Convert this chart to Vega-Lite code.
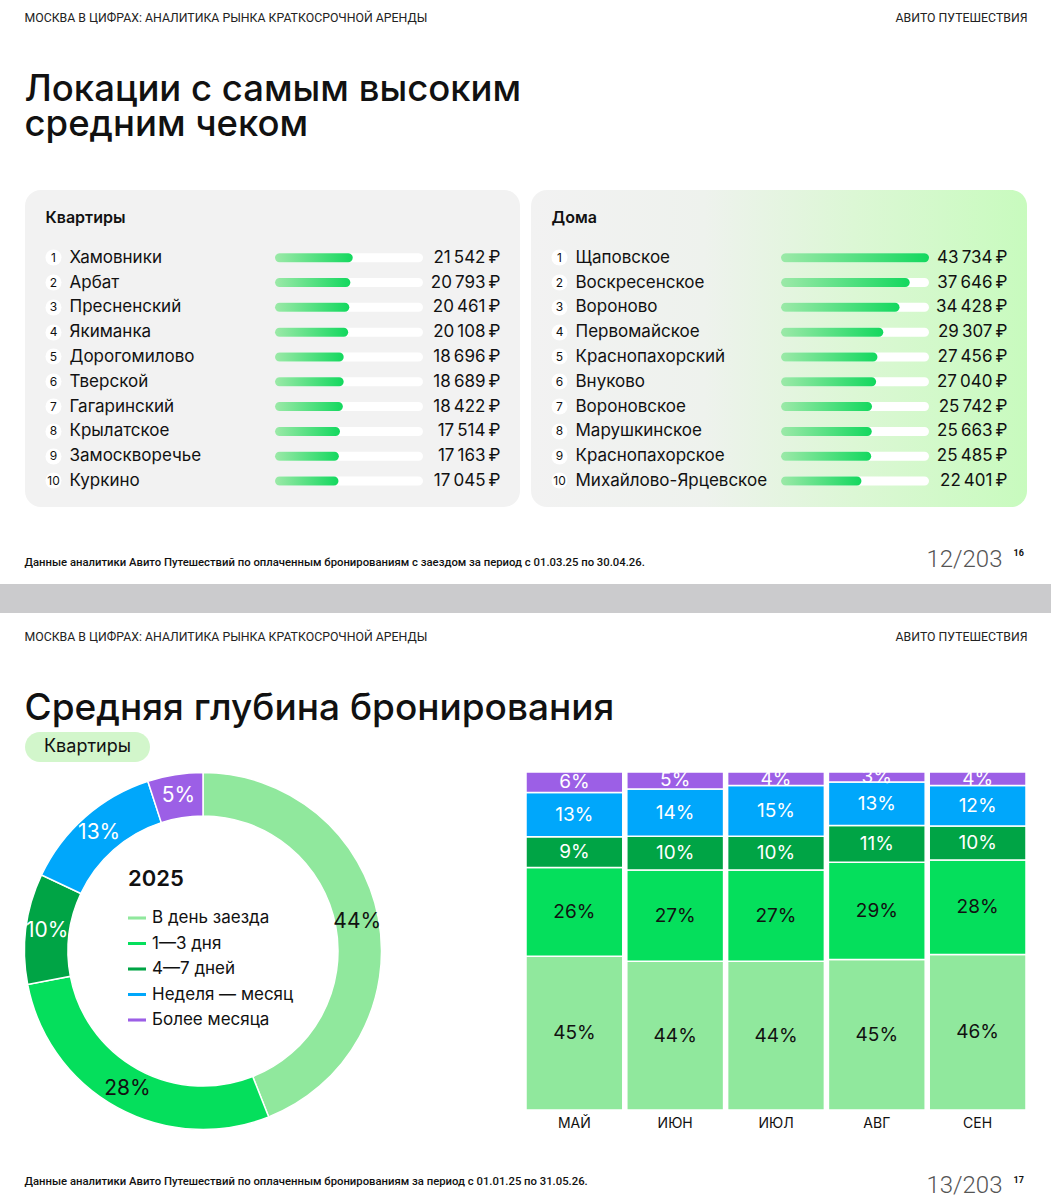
{
  "$schema": "https://vega.github.io/schema/vega-lite/v6.json",
  "padding": 0,
  "spacing": 0,
  "background": "#ffffff",
  "config": {
    "font": "Inter",
    "view": {"stroke": null},
    "axis": {"minExtent": 0, "grid": false, "domain": false, "labelOverlap": false}
  },
  "datasets": {
    "blank": [],
    "flats": [
      {"rank": 1, "name": "Хамовники", "value": 21542},
      {"rank": 2, "name": "Арбат", "value": 20793},
      {"rank": 3, "name": "Пресненский", "value": 20461},
      {"rank": 4, "name": "Якиманка", "value": 20108},
      {"rank": 5, "name": "Дорогомилово", "value": 18696},
      {"rank": 6, "name": "Тверской", "value": 18689},
      {"rank": 7, "name": "Гагаринский", "value": 18422},
      {"rank": 8, "name": "Крылатское", "value": 17514},
      {"rank": 9, "name": "Замоскворечье", "value": 17163},
      {"rank": 10, "name": "Куркино", "value": 17045}
    ],
    "houses": [
      {"rank": 1, "name": "Щаповское", "value": 43734},
      {"rank": 2, "name": "Воскресенское", "value": 37646},
      {"rank": 3, "name": "Вороново", "value": 34428},
      {"rank": 4, "name": "Первомайское", "value": 29307},
      {"rank": 5, "name": "Краснопахорский", "value": 27456},
      {"rank": 6, "name": "Внуково", "value": 27040},
      {"rank": 7, "name": "Вороновское", "value": 25742},
      {"rank": 8, "name": "Марушкинское", "value": 25663},
      {"rank": 9, "name": "Краснопахорское", "value": 25485},
      {"rank": 10, "name": "Михайлово-Ярцевское", "value": 22401}
    ],
    "year2025": [
      {"cat": "В день заезда", "from_day": 0, "share": 0.44},
      {"cat": "1—3 дня", "from_day": 1, "share": 0.28},
      {"cat": "4—7 дней", "from_day": 4, "share": 0.10},
      {"cat": "Неделя — месяц", "from_day": 8, "share": 0.13},
      {"cat": "Более месяца", "from_day": 31, "share": 0.05}
    ],
    "byMonth": [
      {"month": "МАЙ", "cat": "В день заезда", "from_day": 0, "share": 0.45},
      {"month": "МАЙ", "cat": "1—3 дня", "from_day": 1, "share": 0.26},
      {"month": "МАЙ", "cat": "4—7 дней", "from_day": 4, "share": 0.09},
      {"month": "МАЙ", "cat": "Неделя — месяц", "from_day": 8, "share": 0.13},
      {"month": "МАЙ", "cat": "Более месяца", "from_day": 31, "share": 0.06},
      {"month": "ИЮН", "cat": "В день заезда", "from_day": 0, "share": 0.44},
      {"month": "ИЮН", "cat": "1—3 дня", "from_day": 1, "share": 0.27},
      {"month": "ИЮН", "cat": "4—7 дней", "from_day": 4, "share": 0.10},
      {"month": "ИЮН", "cat": "Неделя — месяц", "from_day": 8, "share": 0.14},
      {"month": "ИЮН", "cat": "Более месяца", "from_day": 31, "share": 0.05},
      {"month": "ИЮЛ", "cat": "В день заезда", "from_day": 0, "share": 0.44},
      {"month": "ИЮЛ", "cat": "1—3 дня", "from_day": 1, "share": 0.27},
      {"month": "ИЮЛ", "cat": "4—7 дней", "from_day": 4, "share": 0.10},
      {"month": "ИЮЛ", "cat": "Неделя — месяц", "from_day": 8, "share": 0.15},
      {"month": "ИЮЛ", "cat": "Более месяца", "from_day": 31, "share": 0.04},
      {"month": "АВГ", "cat": "В день заезда", "from_day": 0, "share": 0.45},
      {"month": "АВГ", "cat": "1—3 дня", "from_day": 1, "share": 0.29},
      {"month": "АВГ", "cat": "4—7 дней", "from_day": 4, "share": 0.11},
      {"month": "АВГ", "cat": "Неделя — месяц", "from_day": 8, "share": 0.13},
      {"month": "АВГ", "cat": "Более месяца", "from_day": 31, "share": 0.03},
      {"month": "СЕН", "cat": "В день заезда", "from_day": 0, "share": 0.46},
      {"month": "СЕН", "cat": "1—3 дня", "from_day": 1, "share": 0.28},
      {"month": "СЕН", "cat": "4—7 дней", "from_day": 4, "share": 0.10},
      {"month": "СЕН", "cat": "Неделя — месяц", "from_day": 8, "share": 0.12},
      {"month": "СЕН", "cat": "Более месяца", "from_day": 31, "share": 0.04}
    ]
  },
  "vconcat": [
    {
      "width": 1051, "height": 190,
      "data": {"name": "blank"},
      "layer": [
        {"mark": {"type": "point", "opacity": 0},
         "encoding": {
           "x": {"field": "x", "type": "quantitative", "scale": {"domain": [0, 1]},
                 "axis": {"orient": "top", "labels": false, "ticks": false, "domain": false,
                          "title": ["Локации с самым высоким", "средним чеком"],
                          "titleX": 24, "titleY": 100, "titleAlign": "left", "titleBaseline": "alphabetic", "titleAngle": 0,
                          "titleFont": "Inter", "titleFontSize": 36.5, "titleFontWeight": 500, "titleLineHeight": 35.5,
                          "titleColor": "#111111", "titleLimit": 0}},
           "y": {"field": "y", "type": "quantitative", "scale": {"domain": [0, 1]},
                 "axis": {"orient": "left", "labels": false, "ticks": false, "domain": false,
                          "title": "МОСКВА В ЦИФРАХ: АНАЛИТИКА РЫНКА КРАТКОСРОЧНОЙ АРЕНДЫ",
                          "titleX": 24, "titleY": 21, "titleAlign": "left", "titleBaseline": "alphabetic", "titleAngle": 0,
                          "titleFont": "Roboto", "titleFontSize": 12.3, "titleFontWeight": 400, "titleColor": "#222222", "titleLimit": 0}}
         }},
        {"mark": {"type": "point", "opacity": 0},
         "encoding": {
           "y": {"field": "y", "type": "quantitative", "scale": {"domain": [0, 1]},
                 "axis": {"orient": "right", "labels": false, "ticks": false, "domain": false,
                          "title": "АВИТО ПУТЕШЕСТВИЯ",
                          "titleX": -24, "titleY": 21, "titleAlign": "right", "titleBaseline": "alphabetic", "titleAngle": 0,
                          "titleFont": "Roboto", "titleFontSize": 12.3, "titleFontWeight": 400, "titleColor": "#222222", "titleLimit": 0}}
         }}
      ],
      "resolve": {"scale": {"y": "independent"}, "axis": {"y": "independent"}}
    },
    {
      "spacing": 11,
      "hconcat": [
        {"width": 14, "height": 317, "data": {"name": "blank"}, "mark": "rect", "encoding": {}},
        {
          "width": 495, "height": 317,
          "view": {"fill": "#f2f2f2", "cornerRadius": 16},
          "data": {"name": "flats"},
          "layer": [
            {"mark": {"type": "bar", "color": "#ffffff", "cornerRadius": 4.5, "height": 9, "xOffset": 9.5},
             "encoding": {
               "x": {"datum": 43734, "type": "quantitative", "scale": {"domain": [0, 43734], "range": [250, 388.5]}, "axis": null},
               "x2": {"datum": 0},
               "y": {"field": "rank", "type": "ordinal",
                     "scale": {"type": "band", "paddingInner": 0, "paddingOuter": 0, "range": [55.3, 303.4]},
                     "axis": {"orient": "left", "offset": -28, "domain": false, "ticks": true, "tickColor": "#ffffff",
                              "tickWidth": 16, "tickCap": "round", "tickSize": 0.01,
                              "labelAlign": "center", "labelBaseline": "middle", "labelPadding": -0.01,
                              "labelFontSize": 12, "labelColor": "#111111",
                              "title": "Квартиры", "titleAngle": 0, "titleX": -8, "titleY": 32,
                              "titleAlign": "left", "titleBaseline": "alphabetic",
                              "titleFontSize": 16, "titleFontWeight": 600, "titleColor": "#111111"}}
             }},
            {"mark": {"type": "bar", "cornerRadius": 4.5, "height": 9, "xOffset": 9.5,
                      "color": {"gradient": "linear", "x1": 0, "y1": 0, "x2": 1, "y2": 0,
                                "stops": [{"offset": 0, "color": "#9ce9a8"}, {"offset": 1, "color": "#13d85e"}]}},
             "encoding": {
               "x": {"field": "value", "type": "quantitative", "scale": {"domain": [0, 43734], "range": [250, 388.5]}, "axis": null},
               "x2": {"datum": 0},
               "y": {"field": "name", "type": "nominal", "sort": {"field": "rank", "op": "min"},
                     "scale": {"type": "band", "paddingInner": 0, "paddingOuter": 0, "range": [55.3, 303.4]},
                     "axis": {"orient": "left", "offset": -44, "domain": false, "ticks": false, "tickSize": 0,
                              "labelPadding": 0, "labelAlign": "left", "labelBaseline": "middle",
                              "labelFontSize": 17, "labelColor": "#111111", "labelLimit": 0, "title": null}}
             }},
            {"mark": {"type": "point", "opacity": 0},
             "encoding": {
               "y": {"field": "value", "type": "ordinal", "sort": "descending",
                     "scale": {"type": "band", "paddingInner": 0, "paddingOuter": 0, "range": [55.3, 303.4]},
                     "axis": {"orient": "right", "offset": -20, "domain": false, "ticks": false, "tickSize": 0,
                              "labelPadding": 0, "labelAlign": "right", "labelBaseline": "middle",
                              "labelFontSize": 17, "labelColor": "#111111", "labelLimit": 0, "title": null,
                              "labelExpr": "replace(format(datum.value, ','), ',', '\u202f') + '\u2009₽'"}}
             }}
          ],
          "resolve": {"scale": {"y": "independent"}, "axis": {"y": "independent"}}
        },
        {
          "width": 496, "height": 317,
          "view": {"fill": {"gradient": "linear", "x1": 0, "y1": 0, "x2": 1, "y2": 0,
                            "stops": [{"offset": 0, "color": "#f2f2f2"}, {"offset": 0.35, "color": "#eef2ed"},
                                      {"offset": 0.65, "color": "#dcf7d5"}, {"offset": 1, "color": "#c8fbbe"}]},
                   "cornerRadius": 16},
          "data": {"name": "houses"},
          "layer": [
            {"mark": {"type": "bar", "color": "#ffffff", "cornerRadius": 4.5, "height": 9, "xOffset": 9.5},
             "encoding": {
               "x": {"datum": 43734, "type": "quantitative", "scale": {"domain": [0, 43734], "range": [250, 388.5]}, "axis": null},
               "x2": {"datum": 0},
               "y": {"field": "rank", "type": "ordinal",
                     "scale": {"type": "band", "paddingInner": 0, "paddingOuter": 0, "range": [55.3, 303.4]},
                     "axis": {"orient": "left", "offset": -28, "domain": false, "ticks": true, "tickColor": "#ffffff",
                              "tickWidth": 16, "tickCap": "round", "tickSize": 0.01,
                              "labelAlign": "center", "labelBaseline": "middle", "labelPadding": -0.01,
                              "labelFontSize": 12, "labelColor": "#111111",
                              "title": "Дома", "titleAngle": 0, "titleX": -8, "titleY": 32,
                              "titleAlign": "left", "titleBaseline": "alphabetic",
                              "titleFontSize": 16, "titleFontWeight": 600, "titleColor": "#111111"}}
             }},
            {"mark": {"type": "bar", "cornerRadius": 4.5, "height": 9, "xOffset": 9.5,
                      "color": {"gradient": "linear", "x1": 0, "y1": 0, "x2": 1, "y2": 0,
                                "stops": [{"offset": 0, "color": "#9ce9a8"}, {"offset": 1, "color": "#13d85e"}]}},
             "encoding": {
               "x": {"field": "value", "type": "quantitative", "scale": {"domain": [0, 43734], "range": [250, 388.5]}, "axis": null},
               "x2": {"datum": 0},
               "y": {"field": "name", "type": "nominal", "sort": {"field": "rank", "op": "min"},
                     "scale": {"type": "band", "paddingInner": 0, "paddingOuter": 0, "range": [55.3, 303.4]},
                     "axis": {"orient": "left", "offset": -44, "domain": false, "ticks": false, "tickSize": 0,
                              "labelPadding": 0, "labelAlign": "left", "labelBaseline": "middle",
                              "labelFontSize": 17, "labelColor": "#111111", "labelLimit": 0, "title": null}}
             }},
            {"mark": {"type": "point", "opacity": 0},
             "encoding": {
               "y": {"field": "value", "type": "ordinal", "sort": "descending",
                     "scale": {"type": "band", "paddingInner": 0, "paddingOuter": 0, "range": [55.3, 303.4]},
                     "axis": {"orient": "right", "offset": -20, "domain": false, "ticks": false, "tickSize": 0,
                              "labelPadding": 0, "labelAlign": "right", "labelBaseline": "middle",
                              "labelFontSize": 17, "labelColor": "#111111", "labelLimit": 0, "title": null,
                              "labelExpr": "replace(format(datum.value, ','), ',', '\u202f') + '\u2009₽'"}}
             }}
          ],
          "resolve": {"scale": {"y": "independent"}, "axis": {"y": "independent"}}
        }
      ]
    },
    {
      "width": 1051, "height": 77,
      "data": {"name": "blank"},
      "layer": [
        {"mark": {"type": "point", "opacity": 0},
         "encoding": {
           "x": {"field": "x", "type": "quantitative", "scale": {"domain": [0, 1]},
                 "axis": {"orient": "top", "labels": false, "ticks": false, "domain": false,
                          "title": "12/203", "titleX": 1002, "titleY": 59, "titleAlign": "right", "titleBaseline": "alphabetic", "titleAngle": 0,
                          "titleFont": "Roboto", "titleFontSize": 24, "titleFontWeight": 300, "titleColor": "#555555", "titleLimit": 0}},
           "y": {"field": "y", "type": "quantitative", "scale": {"domain": [0, 1]},
                 "axis": {"orient": "left", "labels": false, "ticks": false, "domain": false,
                          "title": "Данные аналитики Авито Путешествий по оплаченным бронированиям с заездом за период с 01.03.25 по 30.04.26.",
                          "titleX": 24, "titleY": 58, "titleAlign": "left", "titleBaseline": "alphabetic", "titleAngle": 0,
                          "titleFont": "Roboto", "titleFontSize": 11.3, "titleFontWeight": 500, "titleColor": "#111111", "titleLimit": 0}}
         }},
        {"mark": {"type": "point", "opacity": 0},
         "encoding": {
           "y": {"field": "y", "type": "quantitative", "scale": {"domain": [0, 1]},
                 "axis": {"orient": "right", "labels": false, "ticks": false, "domain": false,
                          "title": "16", "titleX": -38, "titleY": 48, "titleAlign": "left", "titleBaseline": "alphabetic", "titleAngle": 0,
                          "titleFont": "Roboto", "titleFontSize": 9, "titleFontWeight": 700, "titleColor": "#111111", "titleLimit": 0}}
         }}
      ],
      "resolve": {"scale": {"y": "independent"}, "axis": {"y": "independent"}}
    },
    {"width": 1051, "height": 29, "view": {"fill": "#cbcbcd"}, "data": {"name": "blank"}, "mark": "rect", "encoding": {}},
    {
      "width": 1051, "height": 119,
      "data": {"name": "blank"},
      "layer": [
        {"mark": {"type": "point", "opacity": 0},
         "encoding": {
           "x": {"field": "x", "type": "quantitative", "scale": {"domain": [0, 1]},
                 "axis": {"orient": "top", "labels": false, "ticks": false, "domain": false,
                          "title": "Средняя глубина бронирования",
                          "titleX": 24, "titleY": 106, "titleAlign": "left", "titleBaseline": "alphabetic", "titleAngle": 0,
                          "titleFont": "Inter", "titleFontSize": 37, "titleFontWeight": 500,
                          "titleColor": "#111111", "titleLimit": 0}},
           "y": {"field": "y", "type": "quantitative", "scale": {"domain": [0, 1]},
                 "axis": {"orient": "left", "labels": false, "ticks": false, "domain": false,
                          "title": "МОСКВА В ЦИФРАХ: АНАЛИТИКА РЫНКА КРАТКОСРОЧНОЙ АРЕНДЫ",
                          "titleX": 24, "titleY": 27, "titleAlign": "left", "titleBaseline": "alphabetic", "titleAngle": 0,
                          "titleFont": "Roboto", "titleFontSize": 12.3, "titleFontWeight": 400, "titleColor": "#222222", "titleLimit": 0}}
         }},
        {"mark": {"type": "point", "opacity": 0},
         "encoding": {
           "y": {"field": "y", "type": "quantitative", "scale": {"domain": [0, 1]},
                 "axis": {"orient": "right", "labels": false, "ticks": false, "domain": false,
                          "title": "АВИТО ПУТЕШЕСТВИЯ",
                          "titleX": -24, "titleY": 27, "titleAlign": "right", "titleBaseline": "alphabetic", "titleAngle": 0,
                          "titleFont": "Roboto", "titleFontSize": 12.3, "titleFontWeight": 400, "titleColor": "#222222", "titleLimit": 0}}
         }}
      ],
      "resolve": {"scale": {"y": "independent"}, "axis": {"y": "independent"}}
    },
    {
      "spacing": 0,
      "hconcat": [
        {"width": 25, "height": 37, "data": {"name": "blank"}, "mark": "rect", "encoding": {}},
        {"width": 125, "height": 30,
         "view": {"fill": "#d2f6cb", "cornerRadius": 15},
         "data": {"values": [{"segment": "Квартиры"}]},
         "mark": {"type": "text", "fontSize": 18, "color": "#111111"},
         "encoding": {"text": {"field": "segment"}}}
      ]
    },
    {
      "spacing": 0,
      "resolve": {"scale": {"color": "independent"}, "legend": {"color": "independent"}},
      "hconcat": [
        {"width": 21, "height": 358, "data": {"name": "blank"}, "mark": "rect", "encoding": {}},
        {
          "width": 358, "height": 358,
          "data": {"name": "year2025"},
          "encoding": {
            "theta": {"field": "share", "type": "quantitative", "stack": true},
            "order": {"field": "from_day", "type": "quantitative"}
          },
          "layer": [
            {"mark": {"type": "arc", "outerRadius": 178.5, "innerRadius": 135, "stroke": "#ffffff", "strokeWidth": 1.5},
             "encoding": {
               "color": {"field": "cat", "type": "nominal",
                         "scale": {"domain": ["В день заезда", "1—3 дня", "4—7 дней", "Неделя — месяц", "Более месяца"],
                                   "range": ["#90e89d", "#05df5c", "#00a445", "#00a7fb", "#9c5fe6"]},
                         "legend": {"orient": "none", "legendX": 104, "legendY": 97, "padding": 0,
                                    "title": "2025", "titleFontSize": 22, "titleFontWeight": 600, "titleColor": "#111111",
                                    "titlePadding": 18,
                                    "labelFontSize": 17, "labelColor": "#111111", "labelOffset": 6,
                                    "symbolType": "M-1,-0.17L1,-0.17L1,0.17L-1,0.17Z", "symbolSize": 324,
                                    "symbolStrokeWidth": 0, "symbolOpacity": 1, "rowPadding": 8.5}}
             }},
            {"mark": {"type": "text", "radius": 157, "fontSize": 21},
             "encoding": {
               "text": {"field": "share", "type": "quantitative", "format": ".0%"},
               "color": {"condition": {"test": "datum.from_day >= 4", "value": "#ffffff"}, "value": "#111111"}
             }}
          ]
        },
        {"width": 140, "height": 358, "data": {"name": "blank"}, "mark": "rect", "encoding": {}},
        {
          "width": 500, "height": 338,
          "data": {"name": "byMonth"},
          "encoding": {
            "x": {"field": "month", "type": "nominal", "sort": ["МАЙ", "ИЮН", "ИЮЛ", "АВГ", "СЕН"],
                  "scale": {"paddingInner": 0.04, "paddingOuter": 0},
                  "axis": {"orient": "bottom", "title": null, "ticks": false, "domain": false, "labelAngle": 0,
                           "labelPadding": 6, "labelFontSize": 14, "labelColor": "#111111"}},
            "order": {"field": "from_day", "type": "quantitative"}
          },
          "layer": [
            {"mark": {"type": "bar", "stroke": "#ffffff", "strokeWidth": 1.5},
             "encoding": {
               "y": {"field": "share", "type": "quantitative", "stack": "normalize", "axis": null},
               "color": {"field": "cat", "type": "nominal",
                         "scale": {"domain": ["В день заезда", "1—3 дня", "4—7 дней", "Неделя — месяц", "Более месяца"],
                                   "range": ["#90e89d", "#05df5c", "#00a445", "#00a7fb", "#9c5fe6"]},
                         "legend": null}
             }},
            {"mark": {"type": "text", "fontSize": 19, "clip": true},
             "encoding": {
               "y": {"field": "share", "type": "quantitative", "stack": "normalize", "bandPosition": 0.5},
               "text": {"field": "share", "type": "quantitative", "format": ".0%"},
               "color": {"condition": {"test": "datum.from_day >= 4", "value": "#ffffff"}, "value": "#111111"}
             }}
          ]
        }
      ]
    },
    {
      "width": 1051, "height": 67,
      "data": {"name": "blank"},
      "layer": [
        {"mark": {"type": "point", "opacity": 0},
         "encoding": {
           "x": {"field": "x", "type": "quantitative", "scale": {"domain": [0, 1]},
                 "axis": {"orient": "top", "labels": false, "ticks": false, "domain": false,
                          "title": "13/203", "titleX": 1002, "titleY": 59, "titleAlign": "right", "titleBaseline": "alphabetic", "titleAngle": 0,
                          "titleFont": "Roboto", "titleFontSize": 24, "titleFontWeight": 300, "titleColor": "#555555", "titleLimit": 0}},
           "y": {"field": "y", "type": "quantitative", "scale": {"domain": [0, 1]},
                 "axis": {"orient": "left", "labels": false, "ticks": false, "domain": false,
                          "title": "Данные аналитики Авито Путешествий по оплаченным бронированиям за период с 01.01.25 по 31.05.26.",
                          "titleX": 24, "titleY": 51, "titleAlign": "left", "titleBaseline": "alphabetic", "titleAngle": 0,
                          "titleFont": "Roboto", "titleFontSize": 11.3, "titleFontWeight": 500, "titleColor": "#111111", "titleLimit": 0}}
         }},
        {"mark": {"type": "point", "opacity": 0},
         "encoding": {
           "y": {"field": "y", "type": "quantitative", "scale": {"domain": [0, 1]},
                 "axis": {"orient": "right", "labels": false, "ticks": false, "domain": false,
                          "title": "17", "titleX": -38, "titleY": 49, "titleAlign": "left", "titleBaseline": "alphabetic", "titleAngle": 0,
                          "titleFont": "Roboto", "titleFontSize": 9, "titleFontWeight": 700, "titleColor": "#111111", "titleLimit": 0}}
         }}
      ],
      "resolve": {"scale": {"y": "independent"}, "axis": {"y": "independent"}}
    }
  ]
}
